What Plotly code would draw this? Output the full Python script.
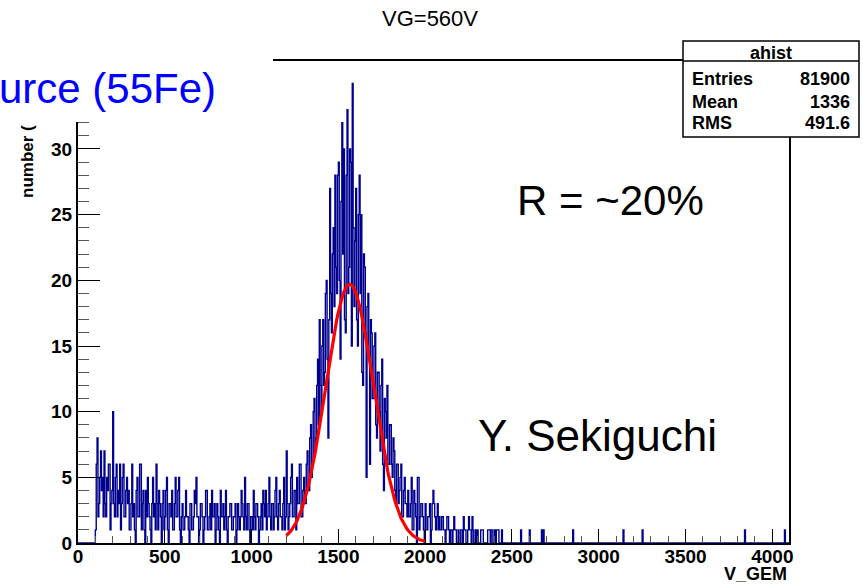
import plotly.graph_objects as go
import math

# ---------------- data ----------------
bin_width = 5
first_edge = 100          # first filled bin starts here
axis_end = 4100

# counts per 5-unit bin, one row per 100 units (x = 100 ... 2495)
r100 = [1, 6, 8, 2, 3, 5, 7, 4, 5, 2, 7, 3, 2, 5, 4, 6, 6, 1, 3, 4]
r200 = [10, 3, 2, 5, 6, 2, 4, 3, 6, 1, 3, 5, 6, 2, 2, 4, 5, 3, 4, 1]
r300 = [1, 3, 6, 2, 3, 1, 0, 4, 5, 2, 2, 6, 6, 1, 3, 4, 1, 0, 4, 2]
r400 = [5, 3, 2, 1, 0, 3, 5, 2, 3, 1, 6, 3, 1, 4, 3, 2, 0, 3, 4, 1]
r500 = [2, 4, 5, 1, 0, 3, 3, 2, 4, 1, 1, 3, 5, 2, 2, 4, 5, 1, 0, 2]
r600 = [3, 1, 1, 2, 4, 2, 2, 1, 0, 3, 3, 1, 1, 2, 4, 3, 5, 2, 2, 0]
r700 = [1, 3, 3, 2, 0, 1, 2, 4, 4, 1, 1, 2, 3, 1, 4, 2, 2, 3, 0, 1]
r800 = [3, 2, 1, 0, 4, 2, 2, 3, 1, 2, 4, 1, 0, 2, 2, 3, 3, 1, 1, 2]
r900 = [2, 3, 0, 1, 3, 2, 1, 2, 4, 3, 2, 1, 5, 2, 1, 3, 3, 1, 0, 2]
r1000 = [2, 1, 4, 2, 1, 3, 3, 2, 0, 1, 2, 3, 1, 4, 3, 2, 4, 1, 2, 3]
r1100 = [5, 2, 1, 3, 3, 1, 2, 4, 5, 2, 1, 3, 4, 2, 2, 1, 3, 5, 1, 2]
r1200 = [7, 3, 1, 2, 3, 5, 6, 2, 2, 4, 4, 1, 5, 3, 3, 6, 6, 2, 2, 4]
r1300 = [5, 3, 3, 6, 7, 4, 4, 8, 9, 5, 6, 10, 11, 7, 8, 12, 14, 9, 17, 12]
r1400 = [10, 15, 17, 12, 13, 19, 20, 14, 8, 17, 27, 19, 16, 22, 24, 18, 28, 21, 19, 28]
r1500 = [29, 20, 14, 26, 32, 22, 30, 17, 16, 28, 33, 19, 21, 30, 29, 15, 35, 24, 18, 23]
r1600 = [27, 17, 15, 25, 28, 19, 25, 13, 12, 22, 21, 16, 5, 18, 19, 14, 6, 17, 16, 11]
r1700 = [11, 15, 16, 9, 8, 13, 13, 10, 7, 12, 14, 6, 4, 11, 10, 8, 12, 6, 6, 9]
r1800 = [9, 6, 5, 8, 7, 4, 3, 6, 6, 3, 4, 5, 6, 2, 2, 4, 5, 3, 3, 2]
r1900 = [4, 2, 2, 3, 5, 1, 1, 4, 3, 2, 0, 5, 5, 1, 2, 3, 3, 2, 1, 0]
r2000 = [3, 1, 1, 2, 2, 3, 0, 1, 3, 4, 3, 2, 1, 2, 3, 1, 2, 1, 1, 2]
r2100 = [2, 1, 1, 0, 1, 2, 2, 1, 0, 1, 1, 0, 1, 2, 1, 1, 0, 0, 1, 0]
r2200 = [0, 1, 1, 0, 2, 1, 1, 0, 0, 1, 2, 1, 1, 0, 2, 1, 0, 0, 1, 0]
r2300 = [1, 0, 0, 0, 1, 1, 1, 0, 0, 0, 0, 0, 1, 1, 1, 0, 1, 1, 0, 0]
r2400 = [1, 0, 1, 1, 1, 0, 0, 0, 1, 0, 0, 0, 0, 0, 0, 0, 0, 0, 0, 0]

# isolated single entries in the tail
tail_x = [2550, 2600, 2670, 2680, 2850, 3140, 3250, 3840, 4070]
tail_counts = [1, 1, 1, 1, 1, 1, 1, 1, 1]

# Gaussian fit parameters (red curve)
fit_const = 19.7
fit_mean = 1565.0
fit_sigma = 137.0
fit_range = (1200, 2000)

# stat box
stat_name = "ahist"
stat_rows = [("Entries", "81900"), ("Mean", "1336"), ("RMS", "491.6")]

x_ticks = [0, 500, 1000, 1500, 2000, 2500, 3000, 3500, 4000]
y_ticks = [0, 5, 10, 15, 20, 25, 30]

# ---------------- build histogram ----------------
rows = [r100, r200, r300, r400, r500, r600, r700, r800, r900, r1000, r1100,
        r1200, r1300, r1400, r1500, r1600, r1700, r1800, r1900, r2000, r2100,
        r2200, r2300, r2400]
per_row = 100 // bin_width
nbins = axis_end // bin_width
counts = [0] * nbins
i0 = first_edge // bin_width
for k, row in enumerate(rows):
    for j, v in enumerate(row):
        counts[i0 + per_row * k + j] = v
for tx, tc in zip(tail_x, tail_counts):
    counts[tx // bin_width] = tc

edges = [i * bin_width for i in range(nbins + 1)]
step_y = counts + [counts[-1]]

fx = [fit_range[0] + i * 5 for i in range((fit_range[1] - fit_range[0]) // 5 + 1)]
fy = [fit_const * math.exp(-0.5 * ((v - fit_mean) / fit_sigma) ** 2) for v in fx]

FONT = "Liberation Sans, Arial, Helvetica, sans-serif"

fig = go.Figure()
fig.add_trace(go.Scatter(x=edges, y=step_y, mode="lines", line_shape="hv",
                         line=dict(color="#00008f", width=1.4),
                         hoverinfo="skip", showlegend=False))
fig.add_trace(go.Scatter(x=fx, y=fy, mode="lines",
                         line=dict(color="#ff0000", width=3.2),
                         hoverinfo="skip", showlegend=False))

L, R, T, B = 78, 74, 61, 42
W, H = 863, 585
pw, ph = W - L - R, H - T - B


def px(x):
    return (x - L) / pw


def py(y):
    return (H - B - y) / ph


fig.update_layout(
    width=W, height=H, autosize=False,
    margin=dict(l=L, r=R, t=T, b=B, pad=0),
    paper_bgcolor="white", plot_bgcolor="white",
    showlegend=False,
    xaxis=dict(range=[0, 4096], tickvals=x_ticks, ticks="inside", ticklen=14,
               tickwidth=1, tickcolor="black", showgrid=False, zeroline=False,
               showline=True, linecolor="black", linewidth=2, mirror=True,
               tickfont=dict(family=FONT, size=19, color="black", weight="bold"),
               ticklabelstandoff=-5,
               minor=dict(dtick=100, tick0=0, ticks="inside", ticklen=7,
                          tickcolor="#555555", tickwidth=1, showgrid=False)),
    yaxis=dict(range=[0, 36.7], tickvals=y_ticks, ticks="inside", ticklen=22,
               tickwidth=1, tickcolor="black", showgrid=False, zeroline=False,
               showline=True, linecolor="black", linewidth=2, mirror=True,
               tickfont=dict(family=FONT, size=19, color="black", weight="bold"),
               ticklabelstandoff=0,
               minor=dict(dtick=1, tick0=0, ticks="inside", ticklen=11,
                          tickcolor="#555555", tickwidth=1, showgrid=False)),
)

# stat box (shape above traces)
bx0, bx1, by0, by1 = px(683), px(859), py(137), py(41)
fig.add_shape(type="rect", xref="paper", yref="paper", x0=bx0, x1=bx1, y0=by0, y1=by1,
              fillcolor="white", line=dict(color="black", width=1.5), layer="above")
fig.add_shape(type="line", xref="paper", yref="paper", x0=bx0, x1=bx1, y0=py(61), y1=py(61),
              line=dict(color="black", width=1.5), layer="above")

ann = []
# y axis title
ann.append(dict(text="number (", xref="paper", yref="paper", x=px(27), y=py(162),
                textangle=-90, showarrow=False, xanchor="center", yanchor="middle",
                font=dict(family=FONT, size=17, color="black", weight="bold")))
# slide text box (white background) in the top-left corner
ann.append(dict(text="urce (55Fe)", xref="paper", yref="paper", x=px(-1), y=py(55),
                xanchor="left", yanchor="top", showarrow=False, bgcolor="white",
                width=274, height=67, borderpad=0, borderwidth=0,
                align="left", valign="middle",
                font=dict(family=FONT, size=42, color="#0000ff")))
# title
ann.append(dict(text="VG=560V", xref="paper", yref="paper", x=px(430), y=py(18),
                xanchor="center", yanchor="middle", showarrow=False,
                font=dict(family=FONT, size=22, color="black")))
# stat box texts
sfont = dict(family=FONT, size=18, color="black", weight="bold")
ann.append(dict(text=stat_name, xref="paper", yref="paper", x=(bx0 + bx1) / 2, y=py(53),
                xanchor="center", yanchor="middle", showarrow=False, font=sfont))
for (lab, val), yy in zip(stat_rows, [79, 102, 123]):
    ann.append(dict(text=lab, xref="paper", yref="paper", x=px(690), y=py(yy),
                    xanchor="left", yanchor="middle", showarrow=False, font=sfont))
    ann.append(dict(text=val, xref="paper", yref="paper", x=px(852), y=py(yy),
                    xanchor="right", yanchor="middle", showarrow=False, font=sfont))
# slide annotations
ann.append(dict(text="R = ~20%", xref="paper", yref="paper", x=px(610), y=py(200),
                xanchor="center", yanchor="middle", showarrow=False,
                font=dict(family=FONT, size=42, color="black")))
ann.append(dict(text="Y. Sekiguchi", xref="paper", yref="paper", x=px(597), y=py(435),
                xanchor="center", yanchor="middle", showarrow=False,
                font=dict(family=FONT, size=44, color="black")))
# x axis title
ann.append(dict(text="V_GEM", xref="paper", yref="paper", x=1.0, y=py(574),
                xanchor="right", yanchor="middle", showarrow=False,
                font=dict(family=FONT, size=18, color="black", weight="bold")))
fig.update_layout(annotations=ann)

fig.write_html("out.html", config={"displayModeBar": False},
               post_script="document.body.style.margin='0';document.body.style.overflow='hidden';")
